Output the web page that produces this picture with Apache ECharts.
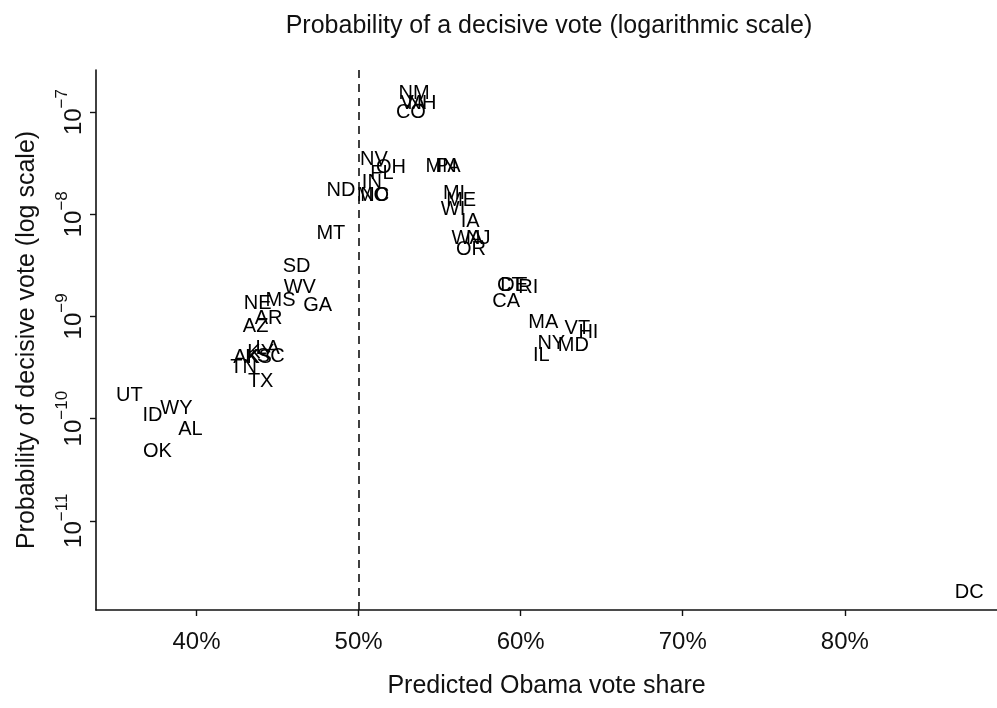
<!DOCTYPE html>
<html>
<head>
<meta charset="utf-8">
<script src="https://cdn.jsdelivr.net/npm/echarts@6/dist/echarts.min.js"></script>
<style>
html,body{margin:0;padding:0;background:#fff;}
#chart{width:997px;height:708px;}
</style>
</head>
<body>
<div id="chart"></div>
<script>
// State abbreviations
const states = ['NM','VA','NH','CO','NV','OH','FL','IN','MO','NC','ND','MT',
  'MN','PA','MI','ME','WI','IA','WA','NJ','OR','CT','DE','RI','CA',
  'MA','VT','HI','NY','MD','IL',
  'SD','WV','MS','NE','GA','AR','AZ','LA','KY','AK','KS','SC','TN','TX',
  'UT','ID','WY','AL','OK','DC'];
// Predicted Obama vote share (%)
const voteShare = [53.42,53.36,53.91,53.23,50.95,52.00,51.44,50.82,50.88,51.00,48.91,48.29,
  55.09,55.52,55.89,56.33,55.83,56.88,56.70,57.38,56.94,59.36,59.60,60.47,59.11,
  61.40,63.50,64.18,61.89,63.25,61.27,
  46.18,46.37,45.19,43.77,47.48,44.45,43.65,44.39,43.96,43.09,43.83,44.58,42.91,43.96,
  35.86,37.28,38.76,39.63,37.59,87.68];
// Probability of a decisive vote
const probDecisive = [1.53e-7,1.22e-7,1.22e-7,0.98e-7,3.46e-8,2.89e-8,2.52e-8,2.06e-8,1.54e-8,1.54e-8,1.72e-8,6.52e-9,
  2.96e-8,2.96e-8,1.61e-8,1.37e-8,1.12e-8,8.53e-9,5.82e-9,5.82e-9,4.54e-9,2.01e-9,2.01e-9,1.92e-9,1.40e-9,
  8.73e-10,7.62e-10,6.97e-10,5.43e-10,5.20e-10,4.15e-10,
  3.09e-9,1.92e-9,1.44e-9,1.34e-9,1.28e-9,9.55e-10,7.98e-10,4.85e-10,4.44e-10,3.96e-10,3.96e-10,4.05e-10,3.16e-10,2.31e-10,
  1.68e-10,1.07e-10,1.25e-10,7.8e-11,4.74e-11,2.01e-12];
// Axis ticks
const xTicks = [40,50,60,70,80];
const yTicks = [1e-11,1e-10,1e-9,1e-8,1e-7];
const cutoff = 50;

const FONT = "'Liberation Sans', Arial, Helvetica, sans-serif";
const INK = '#111';

const data = states.map((s,i)=>[voteShare[i], probDecisive[i], s]);

const chart = echarts.init(document.getElementById('chart'), null, {renderer:'canvas'});
chart.setOption({
  animation:false,
  backgroundColor:'#fff',
  title:{
    text:'Probability of a decisive vote (logarithmic scale)',
    left:544, top:9, textAlign:'center',
    textStyle:{fontFamily:FONT, fontSize:25, fontWeight:'normal', color:INK}
  },
  grid:{left:96, right:0, top:70, bottom:98, containLabel:false},
  xAxis:{
    type:'value', min:33.80, max:89.39,
    name:'Predicted Obama vote share', nameLocation:'middle', nameGap:64,
    nameTextStyle:{fontFamily:FONT, fontSize:25, color:INK},
    splitLine:{show:false},
    axisLine:{show:true, lineStyle:{color:INK, width:1.6}},
    axisTick:{show:true, inside:false, length:6, lineStyle:{color:INK, width:1.4}, customValues:xTicks},
    axisLabel:{fontFamily:FONT, fontSize:24, color:INK, margin:20, customValues:xTicks,
      formatter:v=>v+'%'}
  },
  yAxis:{
    type:'log', min:1.34e-12, max:2.58e-7,
    name:'Probability of decisive vote (log scale)', nameLocation:'middle', nameGap:56, nameRotate:90,
    nameTextStyle:{fontFamily:FONT, fontSize:25, color:INK},
    splitLine:{show:false},
    axisLine:{show:true, lineStyle:{color:INK, width:1.6}},
    axisTick:{show:true, inside:false, length:6, lineStyle:{color:INK, width:1.4}, customValues:yTicks},
    axisLabel:{fontFamily:FONT, color:INK, margin:10, rotate:90, customValues:yTicks,
      formatter:v=>'{b|10}{s|\u2212'+(-Math.round(Math.log10(v)))+'}',
      rich:{
        b:{fontFamily:FONT, fontSize:24, color:INK, lineHeight:32, verticalAlign:'bottom'},
        s:{fontFamily:FONT, fontSize:17, color:INK, lineHeight:20, verticalAlign:'top'}
      }
    }
  },
  series:[{
    type:'scatter',
    data:data,
    symbolSize:1,
    itemStyle:{color:'rgba(255,255,255,0)'},
    label:{show:true, position:'inside', formatter:p=>p.data[2],
      fontFamily:FONT, fontSize:20, color:'#000', textBorderWidth:0, opacity:1},
    markLine:{
      silent:true, symbol:['none','none'],
      label:{show:false},
      lineStyle:{type:[8,6], color:INK, width:1.6},
      data:[{xAxis:cutoff}]
    }
  }]
});
</script>
</body>
</html>
